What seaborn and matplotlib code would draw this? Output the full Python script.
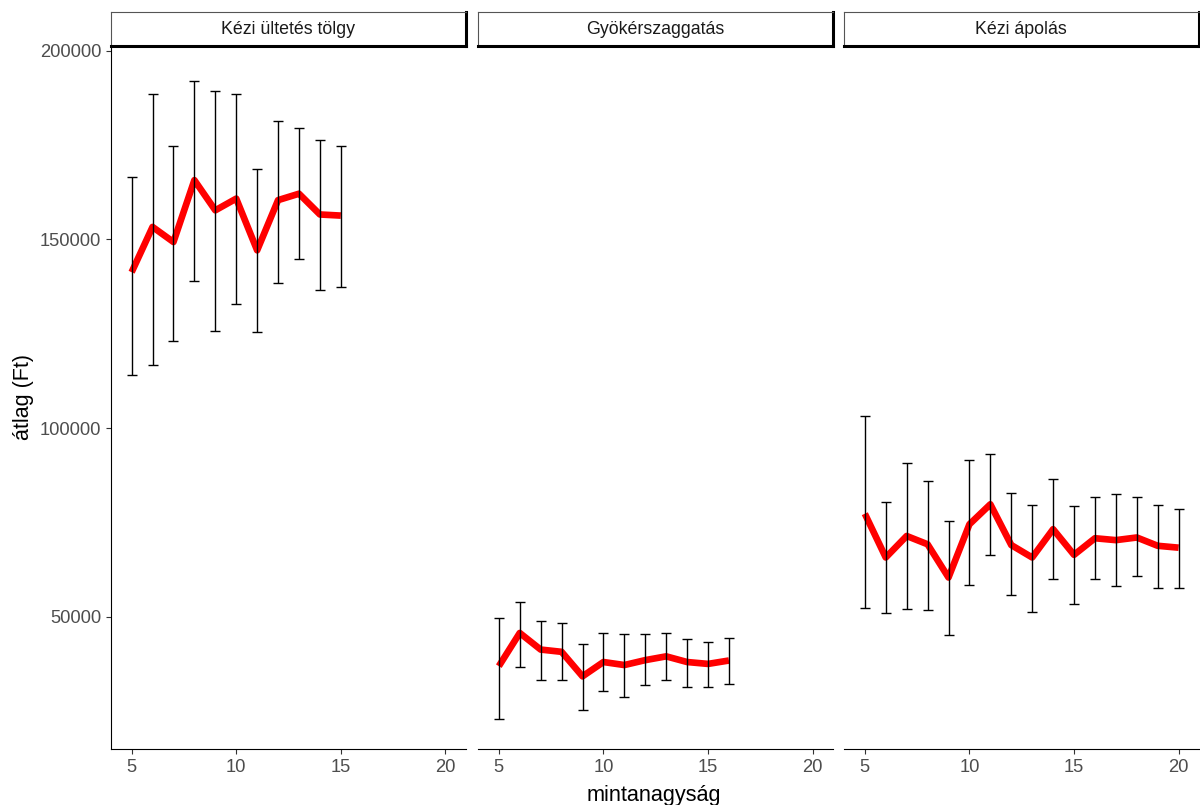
import pandas as pd
import matplotlib
matplotlib.use("Agg")
import matplotlib.pyplot as plt
import seaborn as sns

# facet titles
panels = ["Kézi ültetés tölgy", "Gyökérszaggatás", "Kézi ápolás"]

# Kézi ültetés tölgy
n_1 = [5, 6, 7, 8, 9, 10, 11, 12, 13, 14, 15]
mean_1 = [141300, 153300, 149300, 165700, 157700, 160800, 147100, 160400, 162100, 156600, 156300]
lo_1 = [114100, 116800, 123100, 138900, 125800, 132900, 125400, 138500, 144800, 136500, 137300]
hi_1 = [166400, 188600, 174800, 192100, 189400, 188600, 168600, 181400, 179500, 176300, 174700]

# Gyökérszaggatás
n_2 = [5, 6, 7, 8, 9, 10, 11, 12, 13, 14, 15, 16]
mean_2 = [36900, 45700, 41300, 40700, 34200, 38000, 37200, 38500, 39500, 38000, 37500, 38400]
lo_2 = [22900, 36600, 33200, 33200, 25200, 30400, 28800, 31900, 33200, 31500, 31500, 32300]
hi_2 = [49600, 54000, 48800, 48400, 42700, 45700, 45500, 45500, 45800, 44200, 43400, 44300]

# Kézi ápolás
n_3 = [5, 6, 7, 8, 9, 10, 11, 12, 13, 14, 15, 16, 17, 18, 19, 20]
mean_3 = [77300, 65700, 71400, 69200, 60400, 74500, 79800, 69000, 65700, 73200, 66400, 70800, 70300, 71000, 68800, 68300]
lo_3 = [52400, 50900, 52000, 51700, 45100, 58400, 66300, 55700, 51300, 59900, 53300, 59900, 58100, 60800, 57600, 57600]
hi_3 = [103300, 80500, 90800, 86000, 75400, 91500, 93200, 82800, 79600, 86400, 79300, 81600, 82400, 81600, 79600, 78500]

frames = []
for name, n, m, lo, hi in zip(panels, [n_1, n_2, n_3], [mean_1, mean_2, mean_3],
                              [lo_1, lo_2, lo_3], [hi_1, hi_2, hi_3]):
    frames.append(pd.DataFrame({"panel": name, "mintanagyság": n, "átlag": m,
                                "also": lo, "felso": hi}))
df = pd.concat(frames, ignore_index=True)

sns.set_style("white")
plt.rcParams["font.family"] = ["Liberation Sans", "DejaVu Sans"]

W, H = 1200, 805
fig = plt.figure(figsize=(W / 100, H / 100), dpi=100)

lefts = [110.5, 477.7, 843.7]
pw = 355
p_top, p_bot = 47, 749
s_top, s_bot = 12, 46.5

for i, name in enumerate(panels):
    sub = df[df["panel"] == name]
    ax = fig.add_axes([lefts[i] / W, 1 - p_bot / H, pw / W, (p_bot - p_top) / H])
    sns.lineplot(data=sub, x="mintanagyság", y="átlag", color="#ff0000", linewidth=4.8,
                 errorbar=None, ax=ax, zorder=2, solid_capstyle="butt")
    ax.errorbar(sub["mintanagyság"], sub["átlag"],
                yerr=[sub["átlag"] - sub["also"], sub["felso"] - sub["átlag"]],
                fmt="none", ecolor="black", elinewidth=1.0, capsize=3.6, capthick=1.0, zorder=3)
    ax.set_xlim(3.99, 20.96)
    ax.set_ylim(14950, 200980)
    ax.set_xticks([5, 10, 15, 20])
    ax.set_yticks([50000, 100000, 150000, 200000])
    ax.set_xlabel("")
    ax.set_ylabel("")
    for s in ["top", "right"]:
        ax.spines[s].set_visible(False)
    for s in ["left", "bottom"]:
        ax.spines[s].set_color("black")
        ax.spines[s].set_linewidth(0.8)
    ax.tick_params(axis="both", length=3.3, width=0.8, color="#333333",
                   labelcolor="#4d4d4d", labelsize=13.2, pad=3.4)
    ax.tick_params(axis="x", bottom=True, pad=4)
    ax.tick_params(axis="y", left=True)
    if i > 0:
        ax.spines["left"].set_visible(False)
        ax.tick_params(axis="y", left=False, labelleft=False)

    # strip
    sx = fig.add_axes([lefts[i] / W, 1 - s_bot / H, pw / W, (s_bot - s_top) / H])
    sx.set_xticks([])
    sx.set_yticks([])
    sx.set_facecolor("white")
    for s in ["top", "left"]:
        sx.spines[s].set_color("#555555")
        sx.spines[s].set_linewidth(0.8)
    for s in ["bottom", "right"]:
        sx.spines[s].set_color("black")
        sx.spines[s].set_linewidth(2.2)
    sx.text(0.5, 0.5, name, ha="center", va="center", fontsize=12.8,
            color="#1a1a1a", transform=sx.transAxes)

fig.text(24 / W, 1 - 397 / H, "átlag (Ft)", rotation=90, ha="center", va="center",
         fontsize=15.5, color="black")
fig.text(654 / W, 1 - 801 / H, "mintanagyság", ha="center", va="baseline",
         fontsize=15.6, color="black")

fig.savefig("out.png", dpi=100, facecolor="white")
